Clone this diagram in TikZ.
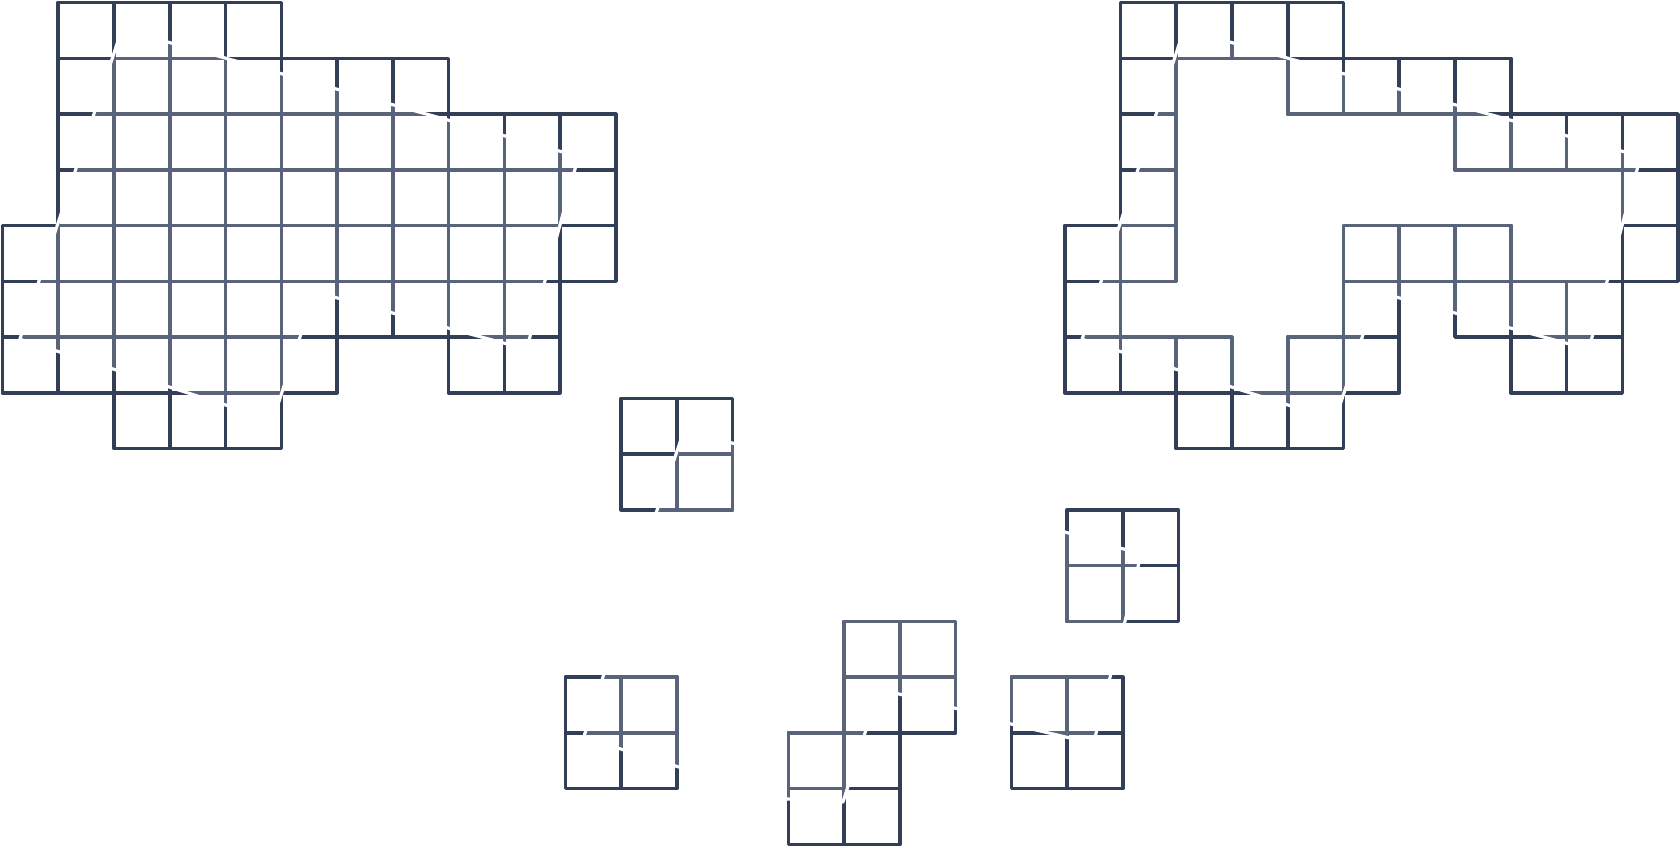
\documentclass[tikz,border=0pt]{standalone}
\usepackage{tikz}
\usepackage{xcolor}
\definecolor{edgedark}{RGB}{51, 62, 87}
\definecolor{edgelight}{RGB}{90, 100, 121}

\begin{document}
\begin{tikzpicture}[x=1cm, y=-1cm,
    cell/.style={line width=1.8pt, line join=round, line cap=round},
    cut/.style={white, line width=1.6pt, line join=round}]
  % Canvas
  \path[fill=white, use as bounding box] (0,0) rectangle (30.134,15.193);

  % Whole shape (left)
  \begin{scope}[shift={(0.045,0.045)}]
    \foreach \r/\a/\b in {0/1/4, 1/1/7, 2/1/10, 3/1/10, 4/0/10, 5/0/9, 6/0/5, 6/8/9, 7/2/4} {
      \foreach \c in {\a,...,\b} {
        \draw[cell, edgedark] (\c,\r) rectangle ++(1,1);
      }
    }
    % lighter inside the cut
    \begin{scope}
      \clip (2.14,0.48) -- (10.33,2.76) -- (9.40,6.22) -- (5.6,5.19) -- (4.85,7.49) -- (0.31,6.04) -- cycle;
      \foreach \r/\a/\b in {0/1/4, 1/1/7, 2/1/10, 3/1/10, 4/0/10, 5/0/9, 6/0/5, 6/8/9, 7/2/4} {
        \foreach \c in {\a,...,\b} {
          \draw[cell, edgelight] (\c,\r) rectangle ++(1,1);
        }
      }
    \end{scope}
    \draw[cut] (2.14,0.48) -- (10.33,2.76) -- (9.40,6.22) -- (5.6,5.19) -- (4.85,7.49) -- (0.31,6.04) -- cycle;
  \end{scope}

  % Shape with holes (right)
  \begin{scope}[shift={(19.098,0.045)}]
    \foreach \r/\a/\b in {0/1/4, 1/1/1, 1/4/7, 2/1/1, 2/7/10, 3/1/1, 3/10/10, 4/0/1, 4/5/7, 4/10/10,
        5/0/0, 5/5/5, 5/7/9, 6/0/2, 6/4/5, 6/8/9, 7/2/4} {
      \foreach \c in {\a,...,\b} {
        \draw[cell, edgedark] (\c,\r) rectangle ++(1,1);
      }
    }
    % lighter inside the cut
    \begin{scope}
      \clip (2.14,0.48) -- (10.33,2.76) -- (9.40,6.22) -- (5.6,5.19) -- (4.85,7.49) -- (0.31,6.04) -- cycle;
      \foreach \r/\a/\b in {0/1/4, 1/1/1, 1/4/7, 2/1/1, 2/7/10, 3/1/1, 3/10/10, 4/0/1, 4/5/7, 4/10/10,
          5/0/0, 5/5/5, 5/7/9, 6/0/2, 6/4/5, 6/8/9, 7/2/4} {
        \foreach \c in {\a,...,\b} {
          \draw[cell, edgelight] (\c,\r) rectangle ++(1,1);
        }
      }
    \end{scope}
    \draw[cut] (2.14,0.48) -- (10.33,2.76) -- (9.40,6.22) -- (5.6,5.19) -- (4.85,7.49) -- (0.31,6.04) -- cycle;
  \end{scope}

  % Loose pieces
  \begin{scope}[shift={(0.14,0.145)}]
    \foreach \c/\r in {11/7, 12/7, 11/8, 12/8, 19/9, 20/9, 19/10, 20/10, 10/12, 11/12, 10/13, 11/13,
        15/11, 16/11, 15/12, 16/12, 14/13, 15/13, 14/14, 15/14, 18/12, 19/12, 18/13, 19/13} {
      \draw[cell, edgedark] (\c,\r) rectangle ++(1,1);
    }
    % lighter inside each cut
    \begin{scope}
      \clip (12.134,7.561) -- (13.313,7.891) -- (13.313,9.272) -- (11.555,9.272) -- cycle
        (18.694,9.320) -- (20.327,9.792) -- (19.980,11.245) -- (18.694,11.245) -- cycle
        (10.830,11.514) -- (10.328,13.083) -- (12.237,13.675) -- (12.237,11.514) -- cycle
        (13.672,10.617) -- (17.259,10.617) -- (17.259,12.626) -- (15.627,12.213) -- (14.981,14.240) -- (13.672,14.169) -- cycle
        (17.618,11.693) -- (19.848,11.693) -- (19.473,13.193) -- (17.618,12.752) -- cycle;
      \foreach \c/\r in {11/7, 12/7, 11/8, 12/8, 19/9, 20/9, 19/10, 20/10, 10/12, 11/12, 10/13, 11/13,
          15/11, 16/11, 15/12, 16/12, 14/13, 15/13, 14/14, 15/14, 18/12, 19/12, 18/13, 19/13} {
        \draw[cell, edgelight] (\c,\r) rectangle ++(1,1);
      }
    \end{scope}
    \draw[cut] (12.134,7.561) -- (13.313,7.891) -- (13.313,9.272) -- (11.555,9.272) -- cycle
      (18.694,9.320) -- (20.327,9.792) -- (19.980,11.245) -- (18.694,11.245) -- cycle
      (10.830,11.514) -- (10.328,13.083) -- (12.237,13.675) -- (12.237,11.514) -- cycle
      (13.672,10.617) -- (17.259,10.617) -- (17.259,12.626) -- (15.627,12.213) -- (14.981,14.240) -- (13.672,14.169) -- cycle
      (17.618,11.693) -- (19.848,11.693) -- (19.473,13.193) -- (17.618,12.752) -- cycle;
  \end{scope}
\end{tikzpicture}
\end{document}
